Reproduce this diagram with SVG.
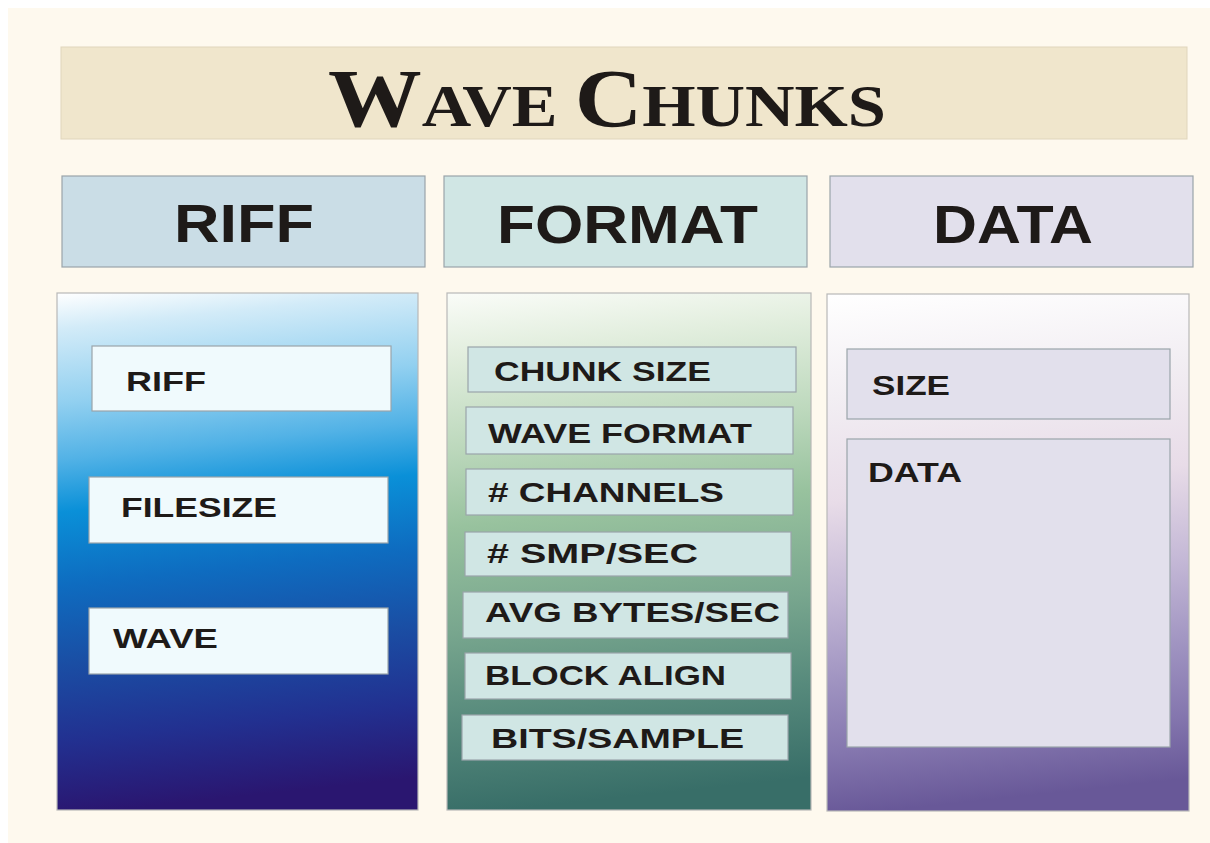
<svg xmlns="http://www.w3.org/2000/svg" width="1210" height="843" viewBox="0 0 1210 843">
<defs>
<linearGradient id="gRiff" gradientUnits="userSpaceOnUse" x1="57" y1="293" x2="112" y2="810">
<stop offset="0" stop-color="#FFFFFF"/>
<stop offset="0.07" stop-color="#D2EBF8"/>
<stop offset="0.21" stop-color="#92D0F0"/>
<stop offset="0.32" stop-color="#52B2E6"/>
<stop offset="0.42" stop-color="#0A90D8"/>
<stop offset="0.56" stop-color="#0E6CC0"/>
<stop offset="0.71" stop-color="#1A4EA4"/>
<stop offset="0.86" stop-color="#223090"/>
<stop offset="1" stop-color="#2A1670"/>
</linearGradient>
<linearGradient id="gFmt" gradientUnits="userSpaceOnUse" x1="447" y1="293" x2="502" y2="810">
<stop offset="0" stop-color="#FAFCF8"/>
<stop offset="0.12" stop-color="#E2EEDE"/>
<stop offset="0.3" stop-color="#BCD8BC"/>
<stop offset="0.45" stop-color="#98C29E"/>
<stop offset="0.65" stop-color="#78A68E"/>
<stop offset="0.82" stop-color="#578A7C"/>
<stop offset="1" stop-color="#386E68"/>
</linearGradient>
<linearGradient id="gData" gradientUnits="userSpaceOnUse" x1="827" y1="294" x2="882" y2="811">
<stop offset="0" stop-color="#FFFFFF"/>
<stop offset="0.2" stop-color="#F2EEF3"/>
<stop offset="0.4" stop-color="#E8DCE8"/>
<stop offset="0.58" stop-color="#C4B8D6"/>
<stop offset="0.75" stop-color="#9E92C0"/>
<stop offset="0.88" stop-color="#8476AE"/>
<stop offset="1" stop-color="#685898"/>
</linearGradient>
</defs>
<style>
.hdr{font-family:"Liberation Sans",Arial,sans-serif;font-weight:bold;font-size:54px;fill:#1E1A18}
.lbl{font-family:"Liberation Sans",Arial,sans-serif;font-weight:bold;font-size:28px;fill:#1E1A18}
.ttl{font-family:"Liberation Serif","Times New Roman",serif;font-weight:bold;fill:#1E1A18}
.box{stroke:#9AA4AA;stroke-width:1.2}
.panel{stroke:#B8B8B8;stroke-width:1.2}
</style>
<rect x="0" y="0" width="1210" height="843" fill="#FFFFFF"/>
<rect x="8" y="8" width="1202" height="835" fill="#FEF9EE"/>

<g id="title">
<rect x="61" y="47" width="1126" height="92" fill="#F0E6CC" stroke="#E0D6BC" stroke-width="1"/>
<text class="ttl" x="328" y="126" textLength="558" lengthAdjust="spacingAndGlyphs"><tspan font-size="82">W</tspan><tspan font-size="60">AVE </tspan><tspan font-size="82">C</tspan><tspan font-size="60">HUNKS</tspan></text>
</g>

<g id="hdr-riff">
<rect class="box" x="62" y="176" width="363" height="91" fill="#CADDE6"/>
<text class="hdr" x="174" y="242" textLength="140" lengthAdjust="spacingAndGlyphs">RIFF</text>
</g>
<g id="hdr-format">
<rect class="box" x="444" y="176" width="363" height="91" fill="#D0E6E4"/>
<text class="hdr" x="497" y="243" textLength="261" lengthAdjust="spacingAndGlyphs">FORMAT</text>
</g>
<g id="hdr-data">
<rect class="box" x="830" y="176" width="363" height="91" fill="#E2E0EC"/>
<text class="hdr" x="933" y="243" textLength="160" lengthAdjust="spacingAndGlyphs">DATA</text>
</g>

<g id="panel-riff">
<rect class="panel" x="57" y="293" width="361" height="517" fill="url(#gRiff)"/>
</g>
<g id="panel-format">
<rect class="panel" x="447" y="293" width="364" height="517" fill="url(#gFmt)"/>
</g>
<g id="panel-data">
<rect class="panel" x="827" y="294" width="362" height="517" fill="url(#gData)"/>
</g>

<g id="riff-riff">
<rect class="box" x="92" y="346" width="299" height="65" fill="#F0FAFD"/>
<text class="lbl" x="126" y="391" textLength="80" lengthAdjust="spacingAndGlyphs">RIFF</text>
</g>
<g id="riff-filesize">
<rect class="box" x="89" y="477" width="299" height="66" fill="#F0FAFD"/>
<text class="lbl" x="121" y="517" textLength="156" lengthAdjust="spacingAndGlyphs">FILESIZE</text>
</g>
<g id="riff-wave">
<rect class="box" x="89" y="608" width="299" height="66" fill="#F0FAFD"/>
<text class="lbl" x="113" y="648" textLength="105" lengthAdjust="spacingAndGlyphs">WAVE</text>
</g>

<g id="fmt-chunksize">
<rect class="box" x="468" y="347" width="328" height="45" fill="#D0E6E4"/>
<text class="lbl" x="494" y="381" textLength="217" lengthAdjust="spacingAndGlyphs">CHUNK SIZE</text>
</g>
<g id="fmt-waveformat">
<rect class="box" x="466" y="407" width="327" height="47" fill="#D0E6E4"/>
<text class="lbl" x="488" y="443" textLength="264" lengthAdjust="spacingAndGlyphs">WAVE FORMAT</text>
</g>
<g id="fmt-channels">
<rect class="box" x="466" y="469" width="327" height="46" fill="#D0E6E4"/>
<text class="lbl" x="488" y="502" textLength="236" lengthAdjust="spacingAndGlyphs"># CHANNELS</text>
</g>
<g id="fmt-smpsec">
<rect class="box" x="465" y="532" width="326" height="44" fill="#D0E6E4"/>
<text class="lbl" x="487" y="563" textLength="211" lengthAdjust="spacingAndGlyphs"># SMP/SEC</text>
</g>
<g id="fmt-avgbytes">
<rect class="box" x="463" y="592" width="325" height="46" fill="#D0E6E4"/>
<text class="lbl" x="485" y="622" textLength="295" lengthAdjust="spacingAndGlyphs">AVG BYTES/SEC</text>
</g>
<g id="fmt-blockalign">
<rect class="box" x="465" y="653" width="326" height="46" fill="#D0E6E4"/>
<text class="lbl" x="485" y="685" textLength="241" lengthAdjust="spacingAndGlyphs">BLOCK ALIGN</text>
</g>
<g id="fmt-bitssample">
<rect class="box" x="462" y="715" width="326" height="45" fill="#D0E6E4"/>
<text class="lbl" x="491" y="748" textLength="253" lengthAdjust="spacingAndGlyphs">BITS/SAMPLE</text>
</g>

<g id="data-size">
<rect class="box" x="847" y="349" width="323" height="70" fill="#E2E0EC" stroke="#B4B0BC"/>
<text class="lbl" x="872" y="395" textLength="78" lengthAdjust="spacingAndGlyphs">SIZE</text>
</g>
<g id="data-data">
<rect class="box" x="847" y="439" width="323" height="308" fill="#E2E0EC" stroke="#A8A4B0"/>
<text class="lbl" x="868" y="482" textLength="94" lengthAdjust="spacingAndGlyphs">DATA</text>
</g>

<g id="connectors"></g>
</svg>
